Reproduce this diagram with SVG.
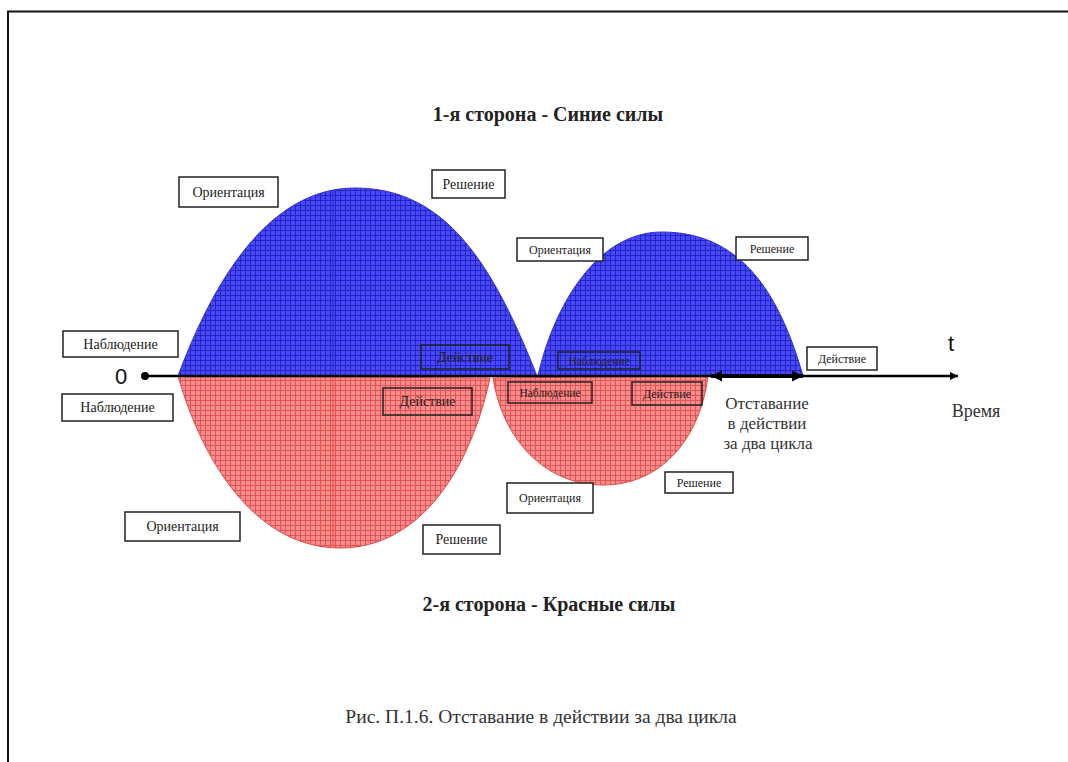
<svg xmlns="http://www.w3.org/2000/svg" width="1068" height="762" viewBox="0 0 1068 762">
<defs>
<pattern id="gridBlue" width="5" height="5" patternUnits="userSpaceOnUse">
<rect width="5" height="5" fill="#4848f8"/>
<path d="M0,0.5H5M0.5,0V5" stroke="#2424c0" stroke-width="1"/>
</pattern>
<pattern id="gridRed" width="5" height="5" patternUnits="userSpaceOnUse">
<rect width="5" height="5" fill="#f78c8c"/>
<path d="M0,0.5H5M0.5,0V5" stroke="#e25454" stroke-width="1"/>
</pattern>
<marker id="arrEnd" viewBox="0 0 10 10" refX="10" refY="5" markerWidth="10" markerHeight="8" markerUnits="userSpaceOnUse" orient="auto">
<path d="M0,0L10,5L0,10Z" fill="#000"/>
</marker>
<marker id="arrBig" viewBox="0 0 10 10" refX="10" refY="5" markerWidth="14" markerHeight="11" markerUnits="userSpaceOnUse" orient="auto-start-reverse">
<path d="M0,0L10,5L0,10Z" fill="#000"/>
</marker>
</defs>
<style>
.box{fill:#fff;stroke:#222;stroke-width:1.5}
.ibox{fill:none;stroke:#222;stroke-width:1.5}
.lbl{font-family:"Liberation Serif",serif;fill:#222;text-anchor:middle}
.l14{font-size:14px}
.l12{font-size:12px}
.l11{font-size:11.5px}
.ttl{font-family:"Liberation Serif",serif;font-weight:bold;font-size:20px;fill:#222;text-anchor:middle}
.sans{font-family:"Liberation Sans",sans-serif;font-size:22px;fill:#111;text-anchor:middle}
</style>
<rect width="1068" height="762" fill="#fff"/>
<path d="M8,762V11.5H1068" fill="none" stroke="#111" stroke-width="2"/>

<g id="lobes">
<path id="blue1" d="M178,376C213,282 268,188 355,188C445,188 492,262 537,376Z" fill="url(#gridBlue)" stroke="#3030d0" stroke-width="1"/>
<path id="blue2" d="M538,376C550,320 590,232 662,232C738,232 778,288 803,376Z" fill="url(#gridBlue)" stroke="#3030d0" stroke-width="1"/>
<path id="red1" d="M178,376C205,470 260,548 340,548C420,548 470,470 490,378Z" fill="url(#gridRed)" stroke="#e04848" stroke-width="1"/>
<path id="red2" d="M493,378C503,440 545,485 603,485C660,485 700,440 708,376Z" fill="url(#gridRed)" stroke="#e04848" stroke-width="1"/>
<line x1="333" y1="191" x2="333" y2="376" stroke="#2a2ae0" stroke-width="1.5" opacity="0.6"/>
<line x1="333" y1="376" x2="333" y2="546" stroke="#f04848" stroke-width="1.5" opacity="0.6"/>
</g>

<g id="connectors">
<line x1="145" y1="376" x2="958" y2="376" stroke="#000" stroke-width="2.5" marker-end="url(#arrEnd)"/>
<circle cx="145" cy="376" r="4" fill="#000"/>
<line x1="711" y1="376" x2="803" y2="376" stroke="#000" stroke-width="4" marker-start="url(#arrBig)" marker-end="url(#arrBig)"/>
</g>

<g id="title-top"><text class="ttl" x="548" y="121">1-я сторона - Синие силы</text></g>
<g id="title-bottom"><text class="ttl" x="549" y="611">2-я сторона - Красные силы</text></g>
<g id="caption"><text class="lbl" x="541" y="723" style="font-size:19.5px;fill:#333">Рис. П.1.6. Отставание в действии за два цикла</text></g>

<g id="zero"><text class="sans" x="121" y="384">0</text></g>
<g id="t-label"><text class="sans" x="951" y="351">t</text></g>
<g id="time-label"><text class="lbl" x="976" y="417" style="font-size:18px;fill:#333">Время</text></g>
<g id="lag-label"><text class="lbl" x="767" y="409" style="font-size:17px;fill:#333"><tspan x="767">Отставание</tspan><tspan x="767" dy="20">в действии</tspan><tspan x="768" dy="20">за два цикла</tspan></text></g>

<g id="b-orient1"><rect class="box" x="179" y="177" width="99" height="30"/><text class="lbl l14" x="228.5" y="197">Ориентация</text></g>
<g id="b-decide1"><rect class="box" x="432" y="170" width="73" height="28"/><text class="lbl l14" x="468.5" y="189">Решение</text></g>
<g id="b-orient2"><rect class="box" x="517" y="238" width="86" height="23"/><text class="lbl l12" x="560" y="254">Ориентация</text></g>
<g id="b-decide2"><rect class="box" x="736" y="237" width="72" height="23"/><text class="lbl l12" x="772" y="253">Решение</text></g>
<g id="b-observe1"><rect class="box" x="63" y="331" width="115" height="26"/><text class="lbl l14" x="120.5" y="349">Наблюдение</text></g>
<g id="b-act1"><rect class="ibox" x="421" y="345" width="88" height="24"/><text class="lbl l14" x="465" y="362">Действие</text></g>
<g id="b-observe2"><rect class="ibox" x="558" y="352" width="82" height="17"/><text class="lbl l11" x="599" y="365">Наблюдение</text></g>
<g id="b-act2"><rect class="box" x="807" y="347" width="70" height="23"/><text class="lbl l12" x="842" y="363">Действие</text></g>

<g id="r-observe1"><rect class="box" x="62" y="394" width="111" height="27"/><text class="lbl l14" x="117.5" y="412">Наблюдение</text></g>
<g id="r-act1"><rect class="ibox" x="383" y="388" width="89" height="27"/><text class="lbl l14" x="427.5" y="406">Действие</text></g>
<g id="r-observe2"><rect class="ibox" x="508" y="382" width="84" height="21"/><text class="lbl l11" x="550" y="397">Наблюдение</text></g>
<g id="r-act2"><rect class="ibox" x="632" y="382" width="70" height="23"/><text class="lbl l12" x="667" y="398">Действие</text></g>
<g id="r-orient1"><rect class="box" x="125" y="512" width="115" height="29"/><text class="lbl l14" x="182.5" y="531">Ориентация</text></g>
<g id="r-decide1"><rect class="box" x="423" y="525" width="77" height="29"/><text class="lbl l14" x="461.5" y="544">Решение</text></g>
<g id="r-orient2"><rect class="box" x="507" y="483" width="86" height="30"/><text class="lbl l12" x="550" y="502">Ориентация</text></g>
<g id="r-decide2"><rect class="box" x="665" y="472" width="68" height="21"/><text class="lbl l12" x="699" y="487">Решение</text></g>
</svg>
